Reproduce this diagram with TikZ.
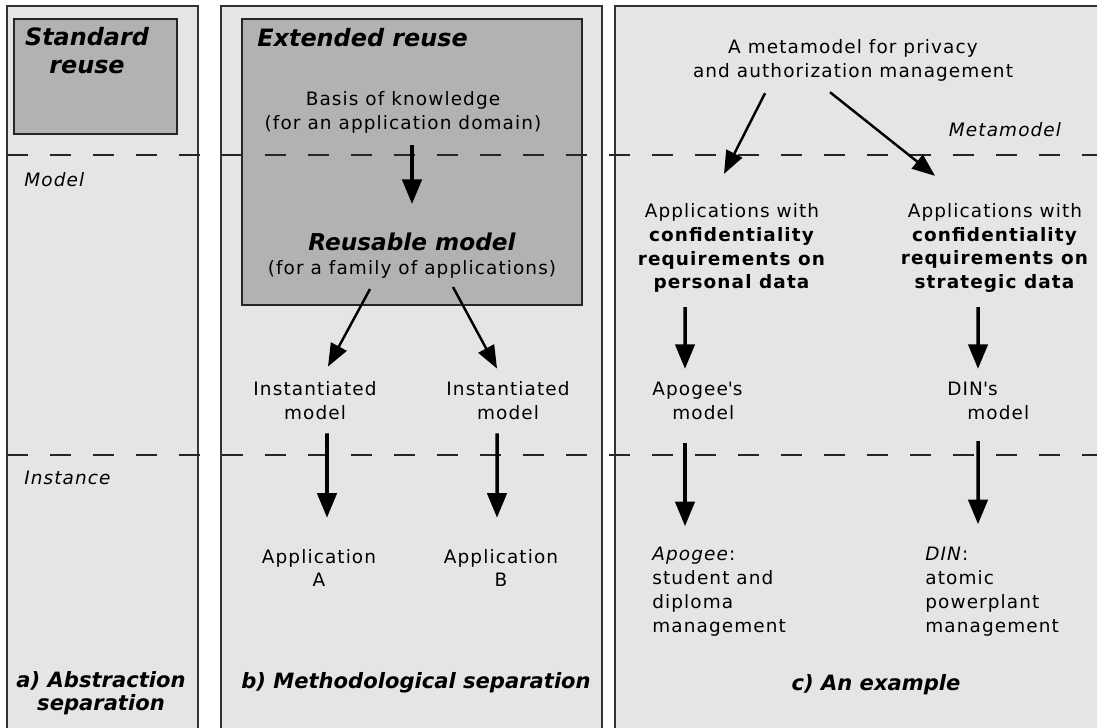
\documentclass[tikz,border=0pt]{standalone}
\usepackage{fontspec}
\setmainfont{DejaVu Sans}[LetterSpace=6]
\newfontfamily\headfont{DejaVu Sans}
\usetikzlibrary{arrows.meta}

\begin{document}
\begin{tikzpicture}[x=0.02cm, y=-0.02cm,
        panel/.style={draw=black!80, line width=1.1pt, fill=black!10},
        reusebox/.style={draw=black!85, line width=0.9pt, fill=black!30},
        level/.style={draw=black!85, line width=0.6pt, dash pattern=on 0.42cm off 0.44cm},
        txt/.style={inner sep=0pt, align=center, font=\fontsize{10.5}{13.6}\selectfont},
        lefttxt/.style={inner sep=0pt, align=left, anchor=west, font=\fontsize{10.5}{13.6}\selectfont},
        headtxt/.style={inner sep=0pt, align=center, font=\headfont\bfseries\itshape\fontsize{13.6}{16}\selectfont},
        lbl/.style={inner sep=0pt, font=\itshape\fontsize{10.5}{13.6}\selectfont},
        captxt/.style={inner sep=0pt, align=center, font=\headfont\bfseries\itshape\fontsize{12}{13}\selectfont},
        arr/.style={-{Triangle[length=14pt,width=11pt]}, line width=2pt},
        slant/.style={-{Triangle[length=13pt,width=10pt]}, line width=1.4pt}]
            \clip (0,0) rectangle (1097,727);
            \fill[white] (0,0) rectangle (1097,727);
            \draw[panel] (7,6) rectangle (198,740);
            \draw[panel] (221,6) rectangle (602,740);
            \draw[panel] (615,6) rectangle (1110,740);
            \draw[reusebox] (14,19) rectangle (177,134);
            \draw[reusebox] (242,19) rectangle (582,305);
            \draw[level] (7,155) -- (1097,155);
            \draw[level] (7,455) -- (1097,455);

            \node[headtxt] (standard) at (87,51) {Standard\\reuse};
            \node[headtxt, anchor=west] (extended) at (257,38) {Extended reuse};
            \node[lbl, anchor=west] (model) at (24,180) {Model};
            \node[lbl, anchor=west] (instance) at (24,478) {Instance};
            \node[lbl] (metamodel) at (1005,130) {Metamodel};

            \node[txt] (basis) at (403,112) {Basis of knowledge\\(for an application domain)};
            \node[txt] (reusable) at (412,256) {{\headfont\bfseries\itshape\fontsize{13.2}{16}\selectfont Reusable model}\\(for a family of applications)};
            \node[txt] (inst1) at (315,401) {Instantiated\\model};
            \node[txt] (inst2) at (508,401) {Instantiated\\model};
            \node[txt] (appA) at (319,568) {Application\\A};
            \node[txt] (appB) at (501,568) {Application\\B};

            \node[txt] (meta) at (853,60) {A metamodel for privacy\\and authorization management};
            \node[txt] (conf1) at (732,248) {Applications with\\\textbf{confidentiality}\\\textbf{requirements on}\\\textbf{personal data}};
            \node[txt] (conf2) at (995,248) {Applications with\\\textbf{confidentiality}\\\textbf{requirements on}\\\textbf{strategic data}};
            \node[lefttxt] (apomodel) at (652,401) {Apogee\textquotesingle s\\\hspace*{0.4cm}model};
            \node[lefttxt] (dinmodel) at (947,401) {DIN\textquotesingle s\\\hspace*{0.4cm}model};
            \node[lefttxt] (apogee) at (652,592) {\textit{Apogee}:\\student and\\diploma\\management};
            \node[lefttxt] (din) at (925,592) {\textit{DIN}:\\atomic\\powerplant\\management};

            \node[captxt] (capa) at (101,693) {a) Abstraction\\separation};
            \node[captxt] (capb) at (416,683) {b) Methodological separation};
            \node[captxt] (capc) at (876,685) {c) An example};

            \draw[arr] ([yshift=-0.24cm]basis.south -| reusable.north) -- ([yshift=0.58cm]reusable.north);
            \draw[slant] ([xshift=-0.84cm, yshift=-0.2cm]reusable.south) -- ([xshift=0.26cm, yshift=0.3cm]inst1.north);
            \draw[slant] ([xshift=0.82cm, yshift=-0.16cm]reusable.south) -- ([xshift=-0.22cm, yshift=0.26cm]inst2.north);
            \draw[arr] ([xshift=0.24cm, yshift=-0.26cm]inst1.south) -- ([xshift=0.16cm, yshift=0.62cm]appA.north);
            \draw[arr] ([xshift=-0.22cm, yshift=-0.26cm]inst2.south) -- ([xshift=-0.08cm, yshift=0.62cm]appB.north);

            \draw[slant] ([xshift=-1.76cm, yshift=-0.24cm]meta.south) -- ([xshift=-0.16cm, yshift=0.58cm]conf1.north);
            \draw[slant] ([xshift=-0.46cm, yshift=-0.22cm]meta.south) -- ([xshift=-1.2cm, yshift=0.54cm]conf2.north);
            \draw[arr] ([xshift=-0.94cm, yshift=-0.28cm]conf1.south) -- ([xshift=0.66cm, yshift=0.26cm]apomodel.north west);
            \draw[arr] ([xshift=-0.34cm, yshift=-0.28cm]conf2.south) -- ([xshift=0.62cm, yshift=0.26cm]dinmodel.north west);
            \draw[arr] ([xshift=0.66cm, yshift=-0.46cm]apomodel.south west) -- ([xshift=0.66cm, yshift=0.42cm]apogee.north west);
            \draw[arr] ([xshift=0.62cm, yshift=-0.42cm]dinmodel.south west) -- ([xshift=1.06cm, yshift=0.46cm]din.north west);
        \end{tikzpicture}
\end{document}
